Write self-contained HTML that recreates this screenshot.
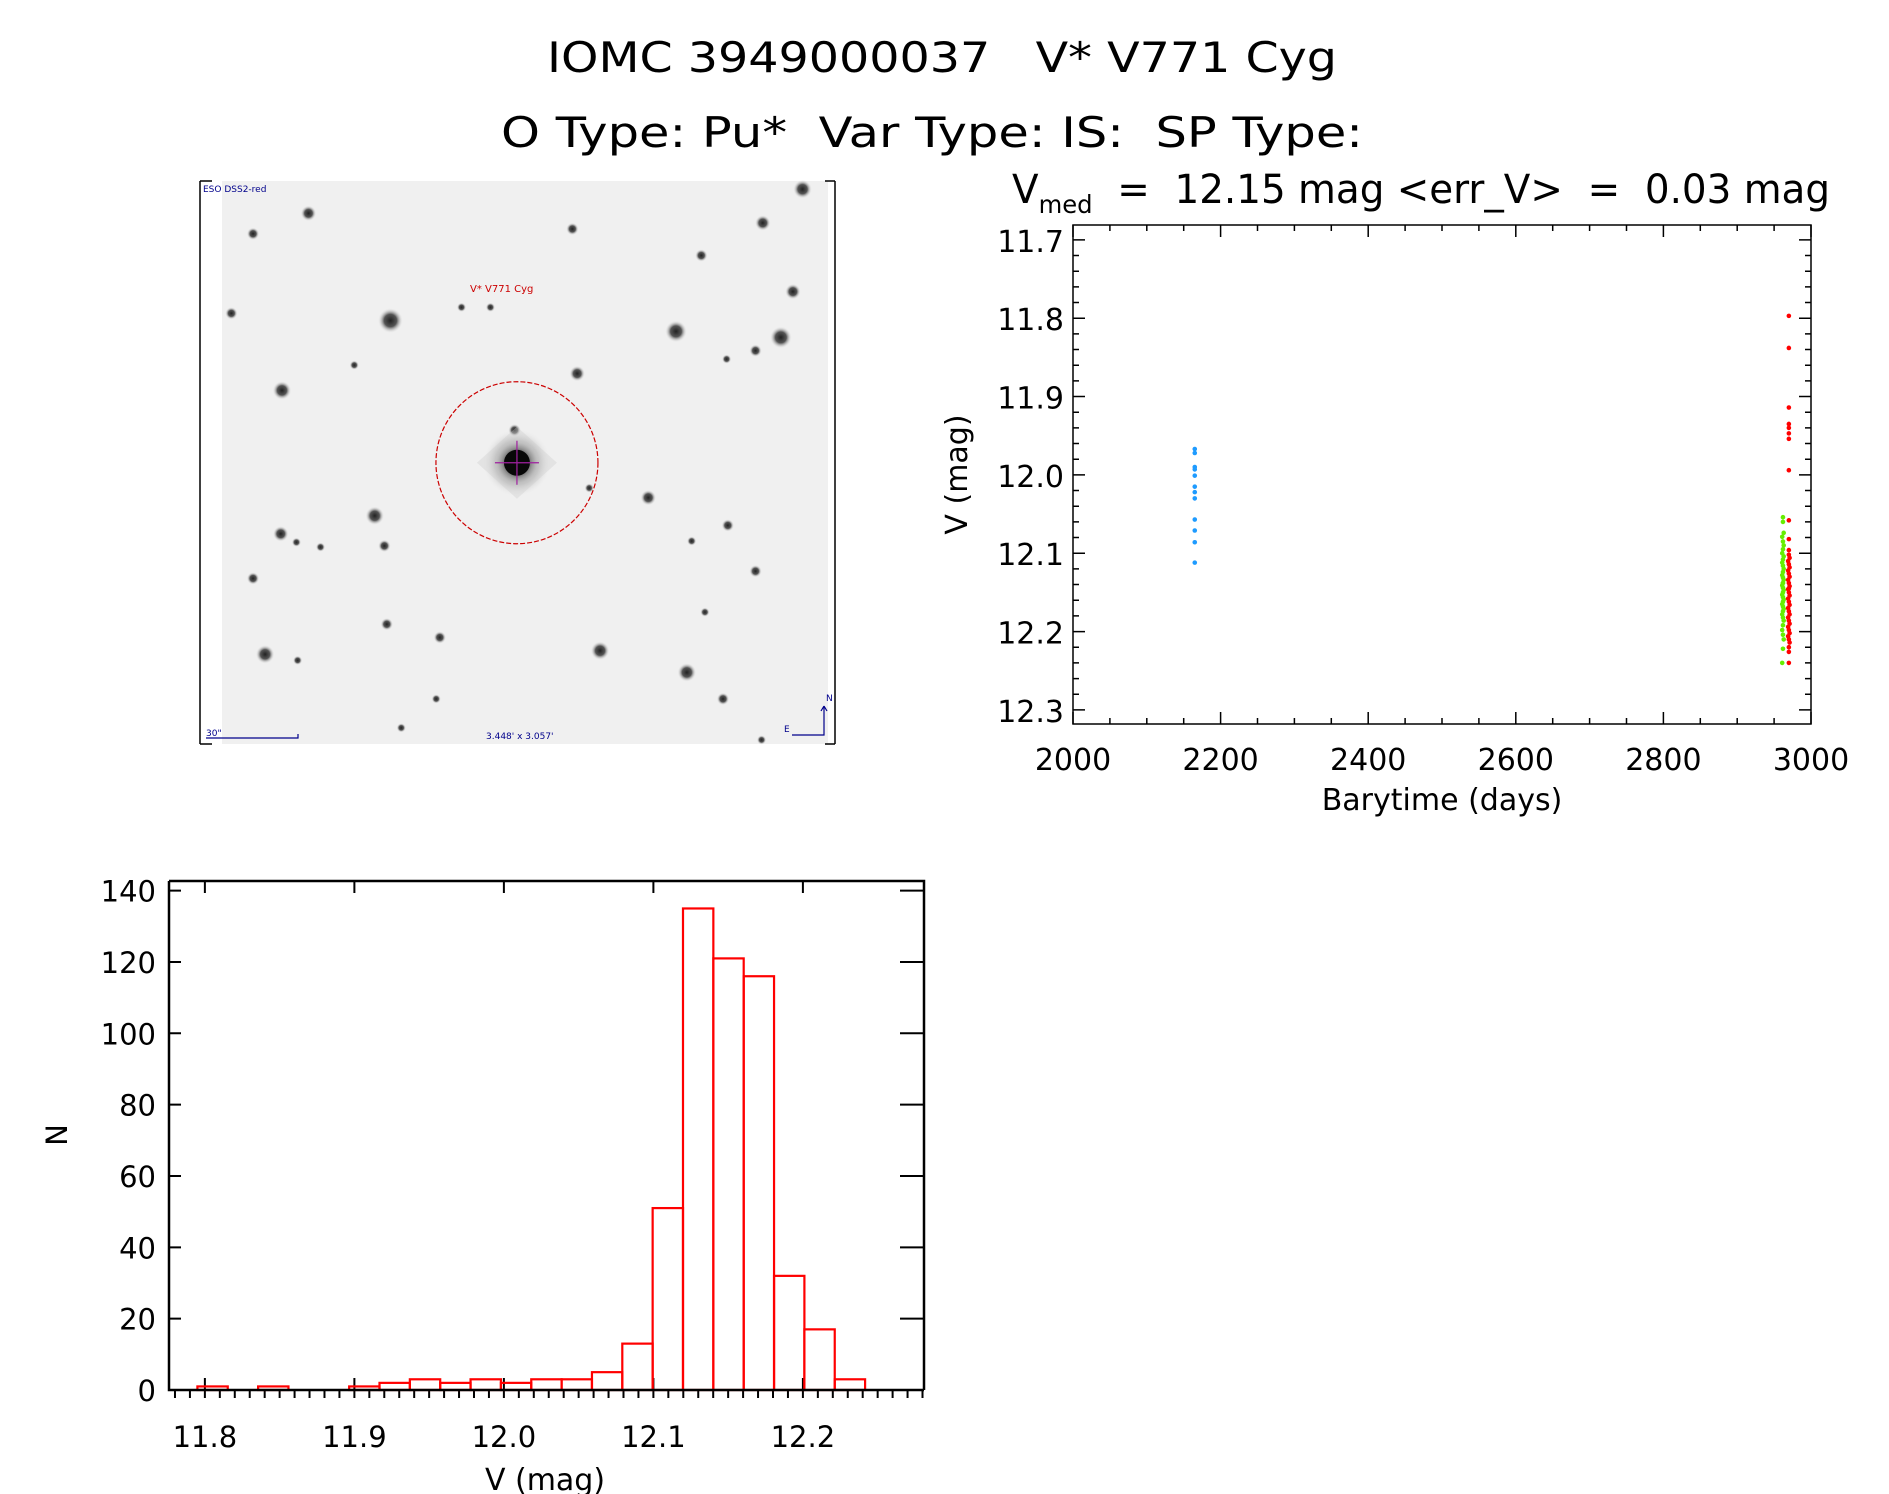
<!DOCTYPE html>
<html><head><meta charset="utf-8">
<style>
html,body{margin:0;padding:0;background:#fff;}
svg{display:block;font-family:"DejaVu Sans","Liberation Sans",sans-serif;}
text{white-space:pre;}
</style></head>
<body>
<svg id="root" width="1889" height="1494" viewBox="0 0 1889 1494" xmlns="http://www.w3.org/2000/svg" xml:space="preserve">
<g fill="#000" font-size="42" text-anchor="middle">
<text x="942" y="72" textLength="790" lengthAdjust="spacingAndGlyphs">IOMC 3949000037   V* V771 Cyg</text>
<text x="932" y="147" textLength="862" lengthAdjust="spacingAndGlyphs">O Type: Pu*  Var Type: IS:  SP Type:</text>
</g>
<g id="sky"></g>
<g id="lc"></g>
<g id="hist"></g>
</svg>
<script>
// ---- light curve data ----
const blueT = [2165,2165,2165,2165,2165,2165,2165,2165,2165,2165,2165,2165];
const blueV = [11.967,11.972,11.990,11.993,12.001,12.015,12.022,12.030,12.057,12.071,12.086,12.112];
const greenT = [2962,2962,2963,2961,2962,2963,2962,2961,2963,2962,2961,2962,2963,2962,2961,2962,2963,2962,2961,2962,2963,2962,2961,2962,2963,2962,2961,2962,2963,2962,2961,2962,2963,2962,2961,2962,2963,2962,2961,2962];
const greenV = [12.054,12.060,12.074,12.079,12.085,12.090,12.095,12.100,12.104,12.108,12.112,12.116,12.120,12.124,12.128,12.131,12.134,12.138,12.141,12.144,12.147,12.150,12.153,12.156,12.159,12.162,12.165,12.168,12.171,12.174,12.178,12.182,12.186,12.192,12.198,12.204,12.210,12.222,12.240,12.138];
const redT = [2970,2970,2970,2970,2970,2970,2970,2970,2970,2970,2970,2970,2971,2969,2970,2971,2969,2970,2971,2969,2970,2971,2969,2970,2971,2969,2970,2971,2969,2970,2971,2969,2970,2971,2969,2970,2971,2969,2970,2971,2970,2970,2970,2970];
const redV = [11.797,11.838,11.914,11.935,11.940,11.947,11.954,11.994,12.058,12.082,12.096,12.102,12.106,12.110,12.114,12.118,12.122,12.126,12.130,12.134,12.138,12.142,12.146,12.150,12.154,12.158,12.162,12.166,12.170,12.174,12.178,12.182,12.186,12.190,12.194,12.198,12.202,12.206,12.210,12.214,12.220,12.226,12.240,12.145];
const lcXTicks = [2000,2200,2400,2600,2800,3000];
const lcYTicks = [11.7,11.8,11.9,12.0,12.1,12.2,12.3];
// ---- histogram data ----
const binStart = 11.795, binWidth = 0.0203;
const counts = [1,0,1,0,0,1,2,3,2,3,2,3,3,5,13,51,135,121,116,32,17,3];
const hXTicks = [11.8,11.9,12.0,12.1,12.2];
const hYTicks = [0,20,40,60,80,100,120,140];

const NS="http://www.w3.org/2000/svg";
function mk(tag,attrs,parent,txt){const e=document.createElementNS(NS,tag);for(const k in attrs)e.setAttribute(k,attrs[k]);if(txt!==undefined)e.textContent=txt;parent.appendChild(e);return e;}

// ---- sky image ----
(function(){
const g=document.getElementById('sky');const S=1.205;
const defs=mk('defs',{},g);
const rg=mk('radialGradient',{id:'star'},defs);
mk('stop',{offset:'0','stop-color':'#222'},rg);mk('stop',{offset:'0.5','stop-color':'#555'},rg);mk('stop',{offset:'1','stop-color':'#eee','stop-opacity':'0'},rg);
const bg=mk('rect',{x:222,y:181,width:606,height:563,fill:'#f0f0f0'},g);


mk('path',{d:'M200 181 V744 M200 181 H212 M200 744 H212 M835 181 V744 M825 181 H835 M825 744 H835',stroke:'#000','stroke-width':1.5,fill:'none'},g);
const stars=[[666,157,6],[256,177,5],[210,194,4],[475,190,4],[633,185,5],[582,212,4],[658,242,5],[192,260,4],[324,266,8],[561,275,7],[648,280,7],[627,291,4],[603,298,3],[294,303,3],[479,310,5],[234,324,6],[427,357,4],[311,428,6],[233,443,5],[246,450,3],[604,436,4],[574,449,3],[319,453,4],[266,454,3],[210,480,4],[627,474,4],[585,508,3],[321,518,4],[365,529,4],[498,540,6],[220,543,6],[570,558,6],[247,548,3],[362,580,3],[600,580,4],[333,604,3],[632,614,3],[538,413,5],[489,405,3],[383,255,3],[407,255,3]];
stars.forEach(s=>{const c=mk('circle',{cx:s[0]*S,cy:s[1]*S,r:s[2]*S*1.3,fill:'url(#star)'},g);});
const cx=429*S,cy=384*S;
mk('circle',{cx:cx,cy:cy,r:34,fill:'url(#star)',opacity:0.6},g);
mk('path',{d:`M${cx-40} ${cy} L${cx} ${cy-36} L${cx+40} ${cy} L${cx} ${cy+36} Z`,fill:'#ccc',opacity:0.35},g);
mk('circle',{cx:cx,cy:cy,r:22,fill:'url(#star)'},g);
mk('circle',{cx:cx,cy:cy,r:13,fill:'#080808'},g);
mk('path',{d:`M${cx-22} ${cy} H${cx+22} M${cx} ${cy-22} V${cy+22}`,stroke:'#a020a0','stroke-width':1.2},g);
const circ=mk('circle',{cx:cx,cy:cy,r:81,fill:'none',stroke:'#c00','stroke-width':1.2,'stroke-dasharray':'5 2'},g);

mk('text',{x:470,y:292,'font-size':10,fill:'#c00'},g,'V* V771 Cyg');
mk('text',{x:203,y:192,'font-size':9,fill:'#00008b'},g,'ESO DSS2-red');
mk('text',{x:206,y:736,'font-size':9,fill:'#00008b'},g,'30"');
mk('path',{d:'M206 738 H298 V734',stroke:'#00008b','stroke-width':1.2,fill:'none'},g);
mk('text',{x:486,y:739,'font-size':9,fill:'#00008b'},g,"3.448' x 3.057'");
mk('path',{d:'M792 735 H824 V706 M824 706 l-3 5 M824 706 l3 5',stroke:'#00008b','stroke-width':1.2,fill:'none'},g);
mk('text',{x:826,y:701,'font-size':9,fill:'#00008b'},g,'N');
mk('text',{x:784,y:732,'font-size':9,fill:'#00008b'},g,'E');
})();

// ---- light curve ----
(function(){
const g=document.getElementById('lc');
const L=1073,R=1811,T=225,B=724;
const x0=2000,x1=3000,y0=11.681,y1=12.318;
const X=v=>L+(v-x0)/(x1-x0)*(R-L);
const Y=v=>T+(v-y0)/(y1-y0)*(B-T);
const fr=mk('rect',{x:L,y:T,width:R-L,height:B-T,fill:'none',stroke:'#000','stroke-width':1.5},g);

let d='';
for(let v=2000;v<=3000;v+=50){const x=X(v);const len=(v%200===0)?12:6;d+=`M${x} ${B} V${B-len} M${x} ${T} V${T+len} `;}
for(let i=0;i<=30;i++){const v=11.7+i*0.02;const y=Y(v);const len=(i%5===0)?12:6;d+=`M${L} ${y} H${L+len} M${R} ${y} H${R-len} `;}
mk('path',{d:d,stroke:'#000','stroke-width':1.5,fill:'none'},g);
lcXTicks.forEach(v=>{const t=mk('text',{x:X(v),y:770,'font-size':30,'text-anchor':'middle'},g,String(v));});
lcYTicks.forEach(v=>{const t=mk('text',{x:1064,y:Y(v)+12,'font-size':30,'text-anchor':'end'},g,v.toFixed(1));});
const xt=mk('text',{x:(L+R)/2,y:810,'font-size':30,'text-anchor':'middle'},g,'Barytime (days)');

const yt=mk('text',{x:0,y:0,'font-size':30,'text-anchor':'middle',transform:`translate(967 ${(T+B)/2}) rotate(-90)`},g,'V (mag)');

const st=mk('text',{x:1012,y:203,'font-size':40,textLength:818,lengthAdjust:'spacingAndGlyphs'},g);

mk('tspan',{},st,'V');mk('tspan',{'font-size':25,dy:10},st,'med');mk('tspan',{dy:-10},st,'  =  12.15 mag <err_V>  =  0.03 mag');
function series(ts,vs,col,name){vs.forEach((v,i)=>{const c=mk('circle',{cx:X(ts[i]),cy:Y(v),r:2.3,fill:col},g);});}
series(blueT,blueV,'#1e9bff','point-blue');
series(greenT,greenV,'#66ee00','point-green');
series(redT,redV,'#ff0000','point-red');
})();

// ---- histogram ----
(function(){
const g=document.getElementById('hist');
const L=169,R=924,T=881,B=1390;
const x0=11.776,x1=12.281,y0=0,y1=142.7;
const X=v=>L+(v-x0)/(x1-x0)*(R-L);
const Y=v=>B-(v-y0)/(y1-y0)*(B-T);
let d='';
for(let i=-2;i<=48;i++){const v=11.8+i*0.01;const x=X(v);if(x<L||x>R)continue;const major=(i%10===0);d+=`M${x} ${B} V${B+8} `;if(major)d+=`M${x} ${B} V${B-12} M${x} ${T} V${T+12} `;}
hYTicks.forEach(v=>{const y=Y(v);d+=`M${L} ${y} H${L+12} M${R} ${y} H${R-24} `;});
mk('path',{d:d,stroke:'#000','stroke-width':2,fill:'none'},g);
counts.forEach((c,i)=>{const a=X(binStart+i*binWidth),b=X(binStart+(i+1)*binWidth);
const r=mk('rect',{x:a,y:Y(c),width:b-a,height:B-Y(c),fill:'none',stroke:'#ff0000','stroke-width':2.2},g);
});
const fr=mk('path',{d:`M${L} ${T} H${R} V${B} M${L} ${T} V${B} H${R}`,fill:'none',stroke:'#000','stroke-width':2.5},g);

hXTicks.forEach(v=>{const t=mk('text',{x:X(v),y:1447,'font-size':29,'text-anchor':'middle'},g,v.toFixed(1));});
hYTicks.forEach(v=>{const t=mk('text',{x:156,y:Y(v)+11,'font-size':29,'text-anchor':'end'},g,String(v));});
const xt=mk('text',{x:545,y:1490,'font-size':30,'text-anchor':'middle'},g,'V (mag)');

const yt=mk('text',{x:0,y:0,'font-size':29,'text-anchor':'middle',transform:`translate(67 1135) rotate(-90)`},g,'N');

})();
</script>
</body></html>
